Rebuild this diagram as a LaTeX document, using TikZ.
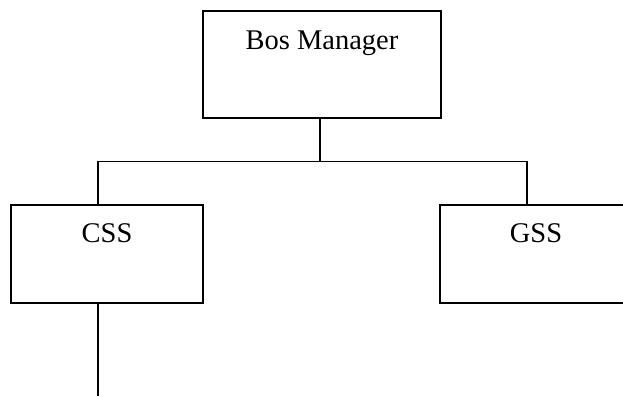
\documentclass[tikz,border=0pt]{standalone}
\usepackage{fontspec}
\setmainfont{Liberation Serif}
\usetikzlibrary{positioning}

\begin{document}
\begin{tikzpicture}[x=1pt,y=-1pt,
        unit/.style={draw,line width=2pt,inner sep=0pt,text height=38pt,
        font=\fontsize{28.5}{34}\selectfont},
        link/.style={draw,line width=1.5pt}]

        \clip (0,0) rectangle (623,396);

        \node[unit,minimum width=238pt,text depth=69pt] (boss) at (322,64.5) {Bos Manager};
        \node[unit,minimum width=192pt,text depth=60pt] (css) at (107,253.5) {CSS};
        \node[unit,minimum width=192pt,text depth=60pt] (gss) at (536,253.5) {GSS};
        \coordinate (bus) at (320,162);
        \coordinate (down) at (98,396);

        \path[link] ([xshift=-2pt]boss.south) -- (bus);
        \path[link] ([xshift=-9pt]css.north) -- ++(0,-42) -| ([xshift=-9pt]gss.north);
        \path[link] ([xshift=-9pt]css.south) -- (down);
    \end{tikzpicture}
\end{document}
